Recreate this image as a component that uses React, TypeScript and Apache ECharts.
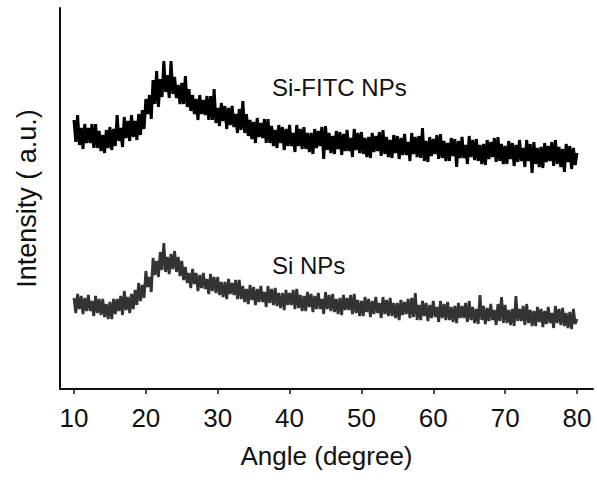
import React, { useEffect, useRef } from "react";
import * as echarts from "echarts";

// Sampling grid of the scan (degrees 2θ)
const angleStart = 10;
const angleStep = 0.25;

// Axis tick labels
const xTicks = [10, 20, 30, 40, 50, 60, 70, 80];

// Series labels
const seriesNames = ["Si-FITC NPs", "Si NPs"];

// Intensity (a.u., offset traces), one value every 0.25°
const siFitcValues = [
  269, 247, 274, 244, 261, 240, 265, 246, 261, 246, 265, 241, 265, 241, 258, 238,
  254, 236, 259, 241, 262, 239, 260, 243, 274, 248, 261, 242, 272, 251, 268, 248,
  274, 252, 268, 249, 275, 254, 279, 260, 290, 275, 294, 270, 309, 285, 318, 282,
  310, 292, 328, 297, 314, 291, 328, 295, 312, 291, 304, 285, 306, 285, 313, 282,
  300, 278, 294, 275, 290, 269, 294, 275, 289, 274, 293, 269, 293, 269, 300, 266,
  281, 263, 286, 268, 283, 260, 281, 264, 283, 262, 275, 256, 280, 259, 288, 256,
  275, 253, 269, 250, 267, 246, 271, 252, 266, 251, 270, 246, 270, 246, 263, 243,
  259, 241, 264, 246, 262, 239, 260, 243, 264, 243, 256, 237, 264, 243, 260, 240,
  262, 240, 256, 237, 256, 235, 260, 241, 258, 243, 262, 230, 263, 239, 256, 236,
  253, 235, 258, 240, 257, 234, 255, 238, 259, 238, 251, 232, 260, 239, 256, 236,
  257, 235, 251, 232, 252, 231, 256, 237, 253, 238, 257, 233, 259, 235, 252, 232,
  249, 231, 254, 236, 253, 230, 251, 234, 255, 234, 247, 228, 256, 235, 252, 232,
  253, 231, 261, 228, 248, 227, 252, 233, 250, 235, 254, 230, 255, 231, 248, 228,
  246, 228, 251, 233, 250, 222, 248, 231, 252, 231, 244, 225, 253, 232, 249, 229,
  250, 228, 244, 225, 245, 224, 249, 230, 247, 232, 251, 227, 252, 228, 245, 225,
  243, 225, 248, 230, 246, 223, 244, 227, 249, 228, 241, 222, 249, 228, 245, 216,
  247, 225, 241, 222, 242, 221, 246, 227, 243, 228, 247, 223, 249, 225, 242, 222,
  240, 217, 245, 227, 243, 220, 241, 224, 236,
];

const siValues = [
  91, 76, 95, 80, 93, 75, 91, 78, 94, 78, 88, 73, 93, 76, 90, 74,
  90, 72, 85, 70, 87, 70, 90, 75, 90, 78, 93, 74, 98, 79, 92, 76,
  95, 80, 99, 84, 106, 88, 104, 91, 118, 102, 112, 97, 131, 114, 128, 112,
  137, 119, 146, 117, 132, 115, 135, 120, 138, 117, 132, 113, 128, 109, 122, 106,
  116, 101, 120, 105, 116, 98, 114, 101, 116, 100, 110, 95, 115, 98, 112, 96,
  112, 94, 107, 92, 107, 90, 110, 95, 106, 94, 109, 90, 109, 90, 103, 87,
  100, 85, 104, 89, 102, 84, 100, 87, 103, 87, 97, 82, 103, 86, 100, 84,
  101, 83, 96, 81, 96, 79, 99, 84, 96, 84, 99, 80, 100, 81, 94, 78,
  93, 78, 97, 82, 95, 77, 93, 80, 96, 80, 90, 75, 97, 80, 94, 78,
  95, 77, 90, 75, 91, 74, 94, 79, 91, 79, 94, 75, 95, 76, 89, 73,
  88, 73, 92, 77, 90, 72, 88, 75, 92, 76, 86, 71, 92, 75, 89, 73,
  91, 73, 86, 71, 86, 69, 89, 74, 87, 75, 90, 71, 91, 72, 96, 69,
  84, 69, 88, 73, 86, 68, 84, 71, 88, 72, 82, 67, 88, 71, 85, 69,
  87, 69, 82, 67, 83, 66, 86, 71, 83, 71, 86, 67, 88, 69, 82, 66,
  80, 65, 94, 69, 83, 65, 81, 68, 85, 69, 79, 64, 85, 68, 92, 66,
  84, 66, 79, 64, 80, 63, 93, 68, 80, 68, 83, 64, 85, 66, 79, 63,
  78, 63, 82, 67, 80, 62, 78, 65, 82, 66, 76, 61, 83, 66, 80, 64,
  81, 63, 76, 61, 77, 60, 80, 65, 70,
];

const FONT = "'Liberation Sans', Arial, Helvetica, sans-serif";

function toPairs(values: number[]): [number, number][] {
  return values.map((v, i) => [angleStart + i * angleStep, v]);
}

export default function App() {
  const ref = useRef<HTMLDivElement>(null);

  useEffect(() => {
    if (!ref.current) return;
    const chart = echarts.init(ref.current, null, { renderer: "svg" });
    chart.setOption({
      animation: false,
      backgroundColor: "#ffffff",
      grid: { left: 60, right: 4, top: 8, bottom: 91, containLabel: false },
      xAxis: {
        type: "value",
        min: 8.05,
        max: 82.23,
        name: "Angle (degree)",
        nameLocation: "middle",
        nameGap: 54,
        nameTextStyle: { fontSize: 26, fontFamily: FONT, color: "#111" },
        axisLine: { show: true, onZero: false, lineStyle: { color: "#111", width: 2 } },
        axisTick: {
          show: true,
          inside: false,
          length: 5,
          customValues: xTicks,
          lineStyle: { color: "#111", width: 1.5 },
        },
        axisLabel: {
          show: true,
          customValues: xTicks,
          margin: 16,
          fontSize: 26,
          fontFamily: FONT,
          color: "#111",
        },
        splitLine: { show: false },
      },
      yAxis: {
        type: "value",
        min: 0,
        max: 381,
        name: "Intensity ( a.u.)",
        nameLocation: "middle",
        nameGap: 20,
        nameRotate: 90,
        nameTextStyle: { fontSize: 27, fontFamily: FONT, color: "#111" },
        axisLine: { show: true, onZero: false, lineStyle: { color: "#111", width: 2 } },
        axisTick: { show: false },
        axisLabel: { show: false },
        splitLine: { show: false },
      },
      series: [
        {
          name: seriesNames[0],
          type: "line",
          data: toPairs(siFitcValues),
          showSymbol: false,
          symbol: "none",
          lineStyle: { color: "#000000", width: 3, join: "miter" },
        },
        {
          name: seriesNames[1],
          type: "line",
          data: toPairs(siValues),
          showSymbol: false,
          symbol: "none",
          lineStyle: { color: "#333333", width: 2.8, join: "miter" },
        },
      ],
      graphic: [
        {
          type: "text",
          x: 272,
          y: 87,
          style: {
            text: seriesNames[0],
            fontSize: 24,
            fontFamily: FONT,
            fill: "#111",
            align: "left",
            verticalAlign: "middle",
          },
        },
        {
          type: "text",
          x: 272,
          y: 265,
          style: {
            text: seriesNames[1],
            fontSize: 24,
            fontFamily: FONT,
            fill: "#111",
            align: "left",
            verticalAlign: "middle",
          },
        },
      ],
    });
    return () => chart.dispose();
  }, []);

  return (
    <div
      ref={ref}
      style={{ position: "fixed", left: 0, top: 0, width: 597, height: 480, background: "#fff" }}
    />
  );
}
